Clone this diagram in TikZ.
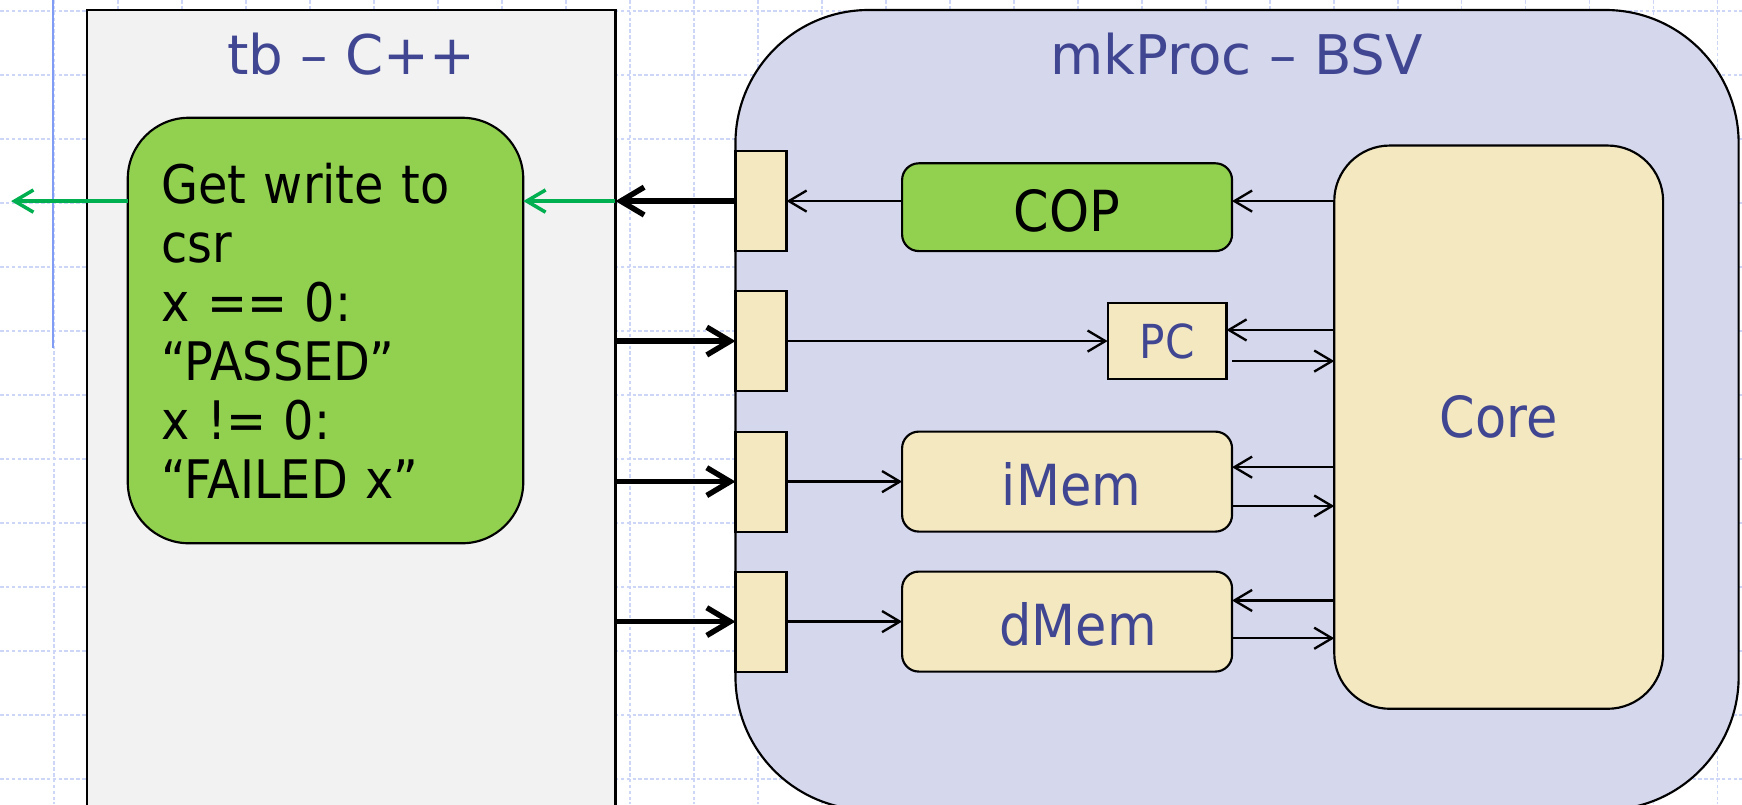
\documentclass[tikz,border=0pt]{standalone}
\usepackage{fontspec}
\setmainfont{DejaVu Sans}
\newfontfamily\narrowfont{DejaVu Sans}[FakeStretch=0.9]
\usetikzlibrary{arrows.meta,calc}

\definecolor{headblue}{RGB}{64,70,145}
\definecolor{tbgray}{RGB}{242,242,242}
\definecolor{procblue}{RGB}{213,215,236}
\definecolor{portyellow}{RGB}{243,232,192}
\definecolor{copgreen}{RGB}{146,208,80}
\definecolor{siggreen}{RGB}{0,176,80}
\definecolor{gridblue}{RGB}{205,214,246}
\definecolor{guideblue}{RGB}{128,156,245}

\begin{document}
\begin{tikzpicture}[x=0.1mm, y=-0.1mm, outer sep=0pt, inner sep=0pt,
  >={Straight Barb[length=1.6mm,width=1.9mm]},
  block/.style={draw=black, line width=0.55pt},
  port/.style={block, fill=portyellow, minimum width=4.6mm, minimum height=9mm},
  unitfont/.style={text=headblue, font=\narrowfont\fontsize{14.5}{17}\selectfont},
  unit/.style={block, unitfont, rounded corners=1.5mm, fill=portyellow,
    minimum width=29.7mm, minimum height=9mm, text height=12.6pt},
  heading/.style={text=headblue, font=\fontsize{14}{17}\selectfont, anchor=base},
  wire/.style={->, line width=0.6pt},
  bus/.style={-{Straight Barb[length=2.1mm,width=2.5mm]}, line width=1.4pt},
  sig/.style={-{Straight Barb[length=1.7mm,width=2mm]}, draw=siggreen, line width=0.9pt},
  gridline/.style={draw=gridblue, line width=0.4pt, dash pattern=on 0.9pt off 0.6pt}]

\useasboundingbox (0,0) rectangle (1568,724);
\clip (0,0) rectangle (1568,724);

% slide grid
\foreach \k in {0,...,26}
  \draw[gridline] ({48.5+57.6*\k},0) -- ({48.5+57.6*\k},724);
\foreach \k in {0,...,12}
  \draw[gridline] (0,{10+57.6*\k}) -- (1568,{10+57.6*\k});
\draw[guideblue, line width=0.5pt] (48,0) -- (48,313);

% testbench
\node[block, fill=tbgray, anchor=north west, minimum width=47.6mm, minimum height=80mm] (tb) at (78,9) {};
\node[heading] (tbname) at (316,67) {tb – C++};
\node[block, fill=copgreen, rounded corners=5.5mm, anchor=north west,
  minimum width=35.6mm, minimum height=38.3mm, text width=29.6mm, inner xsep=3mm,
  align=left, font=\narrowfont\fontsize{13.6}{15.1}\selectfont] (check) at (115,106)
  {Get write to\\csr\\x == 0:\\“PASSED”\\x != 0:\\“FAILED x”};

% processor
\node[block, fill=procblue, rounded corners=12mm, anchor=north west, minimum width=90.3mm, minimum height=72mm] (proc) at (662,9) {};
\node[heading] (procname) at (1113,67) {mkProc – BSV};

\foreach \i/\y in {1/181,2/307,3/433.5,4/559.5}
  \node[port] (p\i) at (685,\y) {};

\node[unit, fill=copgreen, text=black, minimum height=7.9mm] (cop) at (960.5,186.5) {COP};
\node[block, unitfont, fill=portyellow, minimum width=10.7mm, minimum height=6.8mm,
  font=\narrowfont\fontsize{12}{14}\selectfont] (pc) at (1050.5,307) {PC};
\node[unit] (imem) at (960.5,433.5) {\hspace*{0.8mm}iMem};
\node[unit] (dmem) at (960.5,559.5) {\hspace*{2mm}dMem};
\node[unit, rounded corners=5mm, minimum width=29.6mm, minimum height=50.7mm] (core) at (1349,384.5) {};
\node[unitfont] (corename) at (1349,375) {Core};

% inside mkProc
\draw[wire] (core.west |- p1) -- (cop.east |- p1);
\draw[wire] (cop.west |- p1) -- (p1.east);
\draw[wire] (p2.east) -- (pc.west);
\draw[wire] ($(core.west |- pc.east)+(0,-10)$) -- ($(pc.east)+(0,-10)$);
\draw[wire] ($(pc.east)+(5,18)$) -- ($(core.west |- pc.east)+(0,18)$);
\draw[wire] (p3.east) -- (imem.west);
\draw[wire] ($(core.west |- imem.east)+(0,-13)$) -- ($(imem.east)+(0,-13)$);
\draw[wire] ($(imem.east)+(0,22)$) -- ($(core.west |- imem.east)+(0,22)$);
\draw[wire] (p4.east) -- (dmem.west);
\draw[wire] ($(core.west |- dmem.east)+(0,-19)$) -- ($(dmem.east)+(0,-19)$);
\draw[wire] ($(dmem.east)+(0,15)$) -- ($(core.west |- dmem.east)+(0,15)$);

% tb <-> mkProc
\coordinate (out) at (10,181);
\draw[sig] (tb.east |- p1) -- (check.east |- p1);
\draw[sig] (check.west |- p1) -- (out);
\draw[bus] (p1.west) -- (tb.east |- p1);
\foreach \i in {2,3,4}
  \draw[bus] (tb.east |- p\i) -- (p\i.west);
\end{tikzpicture}
\end{document}
